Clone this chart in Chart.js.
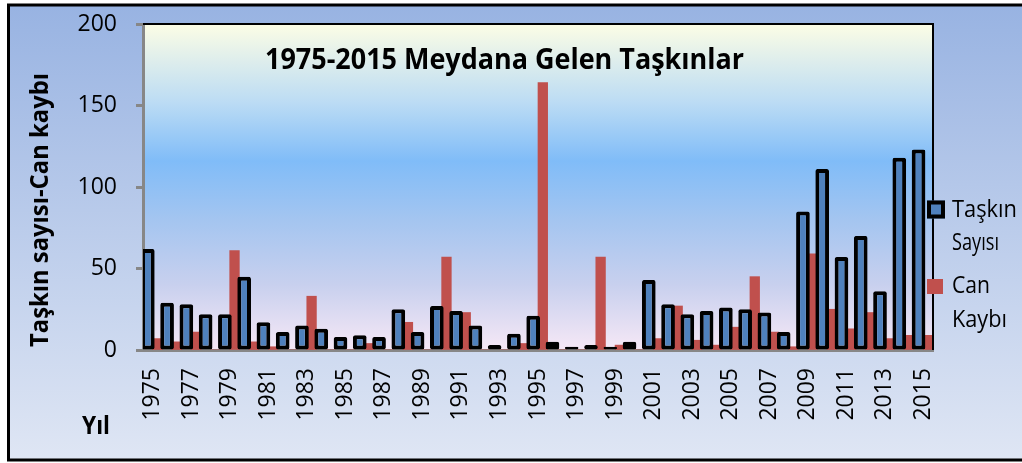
<!DOCTYPE html>
<html lang="tr">
<head>
<meta charset="utf-8">
<title>1975-2015 Meydana Gelen Taşkınlar</title>
<script src="https://cdn.jsdelivr.net/npm/chart.js@4.4.1/dist/chart.umd.min.js"></script>
<style>
  html, body { margin: 0; padding: 0; background: #fff; }
  #wrap { width: 1022px; height: 463px; position: relative; }
</style>
</head>
<body>
<div id="wrap"><canvas id="taskinChart"></canvas></div>
<script>
// Yıllar
const yillar = ['1975', '1976', '1977', '1978', '1979', '1980', '1981', '1982', '1983', '1984',
  '1985', '1986', '1987', '1988', '1989', '1990', '1991', '1992', '1993', '1994',
  '1995', '1996', '1997', '1998', '1999', '2000', '2001', '2002', '2003', '2004',
  '2005', '2006', '2007', '2008', '2009', '2010', '2011', '2012', '2013', '2014', '2015'];

// Taşkın sayısı
const taskinSayisi = [62, 29, 28, 22, 22, 45, 17, 11, 15, 13,
  8, 9, 8, 25, 11, 27, 24, 15, 3, 10,
  21, 5, 2, 3, 2, 5, 43, 28, 22, 24,
  26, 25, 23, 11, 85, 111, 57, 70, 36, 118, 123];

// Can kaybı
const canKaybi = [7, 5, 11, 0, 61, 5, 2, 0, 33, 0,
  0, 4, 0, 17, 0, 57, 23, 0, 0, 4,
  164, 0, 0, 57, 3, 0, 7, 27, 6, 3,
  14, 45, 11, 2, 59, 25, 13, 23, 7, 9, 9];

const yTikleri = [0, 50, 100, 150, 200];

const MAVI = '#4f81bd';
const KIRMIZI = '#c0504d';
const YAZI = "'Open Sans', 'DejaVu Sans', sans-serif";

// metni verilen genişliğe sığdırarak yaz
function sigdirYaz(ctx, text, x, y, width, font, angle) {
  ctx.save();
  ctx.font = font;
  ctx.textAlign = 'left';
  ctx.textBaseline = 'alphabetic';
  const w = ctx.measureText(text).width;
  ctx.translate(x, y);
  if (angle) ctx.rotate(angle);
  ctx.scale(width / w, 1);
  ctx.fillText(text, 0, 0);
  ctx.restore();
}

// arka plan: dış çerçeve ve çizim alanı degradesi
const arkaPlan = {
  id: 'arkaPlan',
  beforeDraw(chart) {
    const ctx = chart.ctx, a = chart.chartArea;
    ctx.save();
    ctx.fillStyle = '#fff';
    ctx.fillRect(0, 0, chart.width, chart.height);

    let g = ctx.createLinearGradient(0, 5, 0, 460);
    g.addColorStop(0, '#98b3e2');
    g.addColorStop(1, '#dfe6f4');
    ctx.fillStyle = g;
    ctx.fillRect(8.5, 5, chart.width, 455);
    ctx.lineWidth = 3;
    ctx.strokeStyle = '#000';
    ctx.strokeRect(8.5, 5, chart.width + 20, 455);

    g = ctx.createLinearGradient(0, a.top, 0, a.bottom);
    g.addColorStop(0, '#fcfde5');
    g.addColorStop(0.24, '#bcdcf4');
    g.addColorStop(0.42, '#80bcf8');
    g.addColorStop(0.6, '#a4c5f0');
    g.addColorStop(0.8, '#c8d0ee');
    g.addColorStop(1, '#f6e8f6');
    ctx.fillStyle = g;
    ctx.fillRect(a.left, a.top, a.right - a.left, a.bottom - a.top);
    ctx.restore();
  }
};

// başlık, eksen yazıları ve gösterge
const yazilar = {
  id: 'yazilar',
  afterDraw(chart) {
    const ctx = chart.ctx, a = chart.chartArea;
    ctx.save();
    // çizim alanının üst ve sağ kenarı
    ctx.strokeStyle = '#000';
    ctx.lineWidth = 2;
    ctx.beginPath();
    ctx.moveTo(a.left, a.top);
    ctx.lineTo(a.right, a.top);
    ctx.lineTo(a.right, a.bottom);
    ctx.stroke();

    ctx.fillStyle = '#000';
    sigdirYaz(ctx, '1975-2015 Meydana Gelen Taşkınlar', 265, 69, 479, 'bold 28px ' + YAZI);
    sigdirYaz(ctx, 'Taşkın sayısı-Can kaybı', 48, 347, 274, 'bold 25px ' + YAZI, -Math.PI / 2);
    sigdirYaz(ctx, 'Yıl', 82, 434, 28, 'bold 25px ' + YAZI);

    // gösterge
    const ds = chart.data.datasets;
    ctx.fillStyle = ds[0].backgroundColor;
    ctx.fillRect(927, 200.5, 18, 18);
    ctx.strokeStyle = '#000';
    ctx.lineWidth = 4;
    ctx.strokeRect(929, 202.5, 14, 14);
    ctx.fillStyle = ds[1].backgroundColor;
    ctx.fillRect(927, 279, 16, 15);

    ctx.fillStyle = '#000';
    const f = '23px ' + YAZI;
    const s1 = ds[0].label.split(' ');
    const s2 = ds[1].label.split(' ');
    sigdirYaz(ctx, s1[0], 952, 217, 65, f);
    sigdirYaz(ctx, s1[1], 952, 250, 47, f);
    sigdirYaz(ctx, s2[0], 952, 293, 38, f);
    sigdirYaz(ctx, s2[1], 952, 327, 55, f);
    ctx.restore();
  }
};

const ctx = document.getElementById('taskinChart').getContext('2d');
new Chart(ctx, {
  type: 'bar',
  data: {
    labels: yillar,
    datasets: [{
      label: 'Taşkın Sayısı',
      data: taskinSayisi,
      backgroundColor: MAVI,
      borderColor: '#000',
      borderWidth: 4,
      borderRadius: 2,
      borderSkipped: false,
      categoryPercentage: 1,
      barPercentage: 1.42
    }, {
      label: 'Can Kaybı',
      data: canKaybi,
      backgroundColor: KIRMIZI,
      borderWidth: 0,
      categoryPercentage: 1,
      barPercentage: 1
    }]
  },
  options: {
    responsive: true,
    maintainAspectRatio: false,
    animation: false,
    layout: { padding: { top: 24, right: 89, left: 0, bottom: 0 } },
    plugins: {
      legend: { display: false },
      tooltip: { enabled: false }
    },
    scales: {
      x: {
        grid: { display: false, drawTicks: false },
        border: { display: true, color: '#878787', width: 3 },
        ticks: {
          autoSkip: false,
          minRotation: 90,
          maxRotation: 90,
          padding: 18,
          color: '#000',
          font: { family: YAZI, size: 23 },
          callback: function (v, i) { return i % 2 === 0 ? yillar[i] : ''; }
        },
        afterFit: function (s) { s.height = 113; }
      },
      y: {
        min: 0,
        max: 200,
        afterBuildTicks: function (s) { s.ticks = yTikleri.map(v => ({ value: v })); },
        grid: { drawOnChartArea: false, drawTicks: true, tickLength: 7, tickWidth: 3, tickColor: '#878787' },
        border: { display: true, color: '#878787', width: 3 },
        ticks: {
          padding: 19,
          color: '#000',
          font: { family: YAZI, size: 23 }
        },
        afterFit: function (s) {
          s.width = 143;
          s.paddingTop = 0;
          s.paddingBottom = 0;
        }
      }
    }
  },
  plugins: [arkaPlan, yazilar]
});
</script>
</body>
</html>
